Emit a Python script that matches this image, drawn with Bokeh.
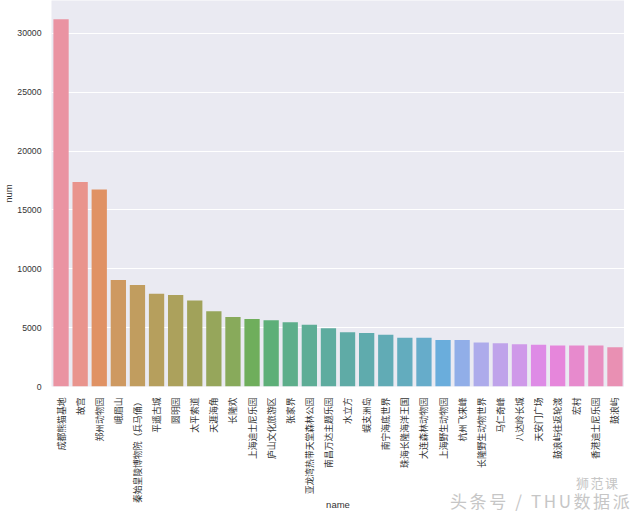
import math
import colorsys
from bokeh.plotting import figure
from bokeh.models import FixedTicker, Div
from bokeh.layouts import column
from bokeh.embed import file_html
from bokeh.resources import INLINE

names = ["成都熊猫基地", "故宫", "郑州动物园", "峨眉山", "秦始皇陵博物院（兵马俑）", "平遥古城",
         "圆明园", "太平索道", "天涯海角", "长隆欢", "上海迪士尼乐园", "庐山文化旅游区", "张家界",
         "亚龙湾热带天堂森林公园", "南昌万达主题乐园", "水立方", "蜈支洲岛", "南宁海底世界",
         "珠海长隆海洋王国", "大连森林动物园", "上海野生动物园", "杭州飞来峰", "长隆野生动物世界",
         "马仁奇峰", "八达岭长城", "天安门广场", "鼓浪屿往返轮渡", "宏村", "香港迪士尼乐园", "鼓浪屿"]
nums = [31200, 17380, 16750, 9050, 8620, 7880, 7770, 7300, 6400, 5910, 5740, 5630, 5450,
        5250, 4940, 4600, 4540, 4400, 4150, 4150, 3960, 3960, 3740, 3680, 3600, 3540,
        3480, 3480, 3480, 3340]
y_ticks = [0, 5000, 10000, 15000, 20000, 25000, 30000]
x_label = "name"
y_label = "num"
watermark_top = "狮范课"
watermark_main = "头条号 / THU数据派"

# --- seaborn-style husl palette (h=.01, s=.9, l=.65), desaturated by .75 ---
_M = [[3.2406, -1.5372, -0.4986], [-0.9689, 1.8758, 0.0415], [0.0557, -0.2040, 1.0570]]
_refU, _refV, _kappa, _eps = 0.19784, 0.46834, 903.2963, 0.0088564


def _max_chroma(L, H):
    hrad = math.radians(H)
    sinH, cosH = math.sin(hrad), math.cos(hrad)
    sub1 = (L + 16) ** 3 / 1560896.0
    sub2 = sub1 if sub1 > _eps else L / _kappa
    res = float("inf")
    for m1, m2, m3 in _M:
        top = (0.99915 * m1 + 1.05122 * m2 + 1.14460 * m3) * sub2
        rb = 0.86330 * m3 - 0.17266 * m2
        lb = 0.12949 * m3 - 0.38848 * m1
        bottom = (rb * sinH + lb * cosH) * sub2
        for t in (0.0, 1.0):
            C = L * (top - 1.05122 * t) / (bottom + 0.17266 * sinH * t)
            if 0 < C < res:
                res = C
    return res


def _husl_to_rgb(H, S, L):
    C = _max_chroma(L, H) / 100.0 * S
    hrad = math.radians(H)
    U, V = math.cos(hrad) * C, math.sin(hrad) * C
    t = (L + 16) / 116.0
    Y = t ** 3 if t ** 3 > _eps else (116 * t - 16) / _kappa
    vu = U / (13 * L) + _refU
    vv = V / (13 * L) + _refV
    X = 0 - (9 * Y * vu) / ((vu - 4) * vv - vu * vv)
    Z = (9 * Y - 15 * vv * Y - vv * X) / (3 * vv)
    out = []
    for row in _M:
        c = row[0] * X + row[1] * Y + row[2] * Z
        c = 12.92 * c if c <= 0.0031308 else 1.055 * c ** (1 / 2.4) - 0.055
        out.append(min(max(c, 0.0), 1.0))
    return out


def _palette(n, lighten=0.14):
    cols = []
    for i in range(n):
        h = ((i / n) + 0.01) % 1 * 359
        r, g, b = _husl_to_rgb(h, 0.9 * 99, 0.65 * 99)
        hh, ll, ss = colorsys.rgb_to_hls(r, g, b)
        r, g, b = colorsys.hls_to_rgb(hh, ll, ss * 0.75)
        r, g, b = [c + (1 - c) * lighten for c in (r, g, b)]
        cols.append("#%02x%02x%02x" % (int(round(r * 255)), int(round(g * 255)), int(round(b * 255))))
    return cols


colors = _palette(len(names))

p = figure(x_range=names, y_range=(0, 32800), width=624, height=513,
           output_backend="svg", toolbar_location=None,
           min_border_top=0, min_border_right=0, min_border_left=0, min_border_bottom=0)
p.vbar(x=names, top=nums, width=0.8, fill_color=colors, line_color=None)

p.background_fill_color = "#eaeaf2"
p.border_fill_color = "white"
p.outline_line_color = None
p.x_range.range_padding = 0.0
p.xgrid.grid_line_color = None
p.ygrid.grid_line_color = "white"
p.ygrid.grid_line_width = 1.2

p.yaxis.ticker = FixedTicker(ticks=y_ticks)
for ax in (p.xaxis[0], p.yaxis[0]):
    ax.axis_line_color = None
    ax.major_tick_line_color = None
    ax.minor_tick_line_color = None
    ax.major_label_text_color = "#333333"
    ax.axis_label_text_color = "#333333"
    ax.axis_label_text_font_style = "normal"
    ax.axis_label_text_font_size = "9.5px"

p.xaxis.major_label_orientation = math.pi / 2
p.xaxis.major_label_text_font = "Noto Sans CJK SC"
p.xaxis.major_label_text_font_size = "8.8px"
p.xaxis.major_label_standoff = 5
p.xaxis.axis_label = x_label
p.xaxis.axis_label_standoff = -7
p.xaxis.axis_label_text_line_height = 0.3
p.xaxis.axis_label_text_font = "Liberation Sans"

p.yaxis.major_label_text_font = "Liberation Sans"
p.yaxis.major_label_text_font_size = "8.7px"
p.yaxis.major_label_standoff = 4
p.yaxis.axis_label = y_label
p.yaxis.axis_label_standoff = 0
p.yaxis.axis_label_text_font = "Liberation Sans"

wm = Div(text=(f'<div style="font-family:\'Noto Sans CJK SC\';color:#c6c6c6;line-height:1;">'
               f'<div style="font-size:13px;margin-left:126px;letter-spacing:1.5px;">{watermark_top}</div>'
               f'<div style="font-size:17px;margin-top:3px;letter-spacing:2.6px;">{watermark_main}</div></div>'),
         width=190, height=34, margin=(-37, 0, 0, 450))

layout = column(p, wm, spacing=0)
open("out.html", "w").write(file_html(layout, INLINE))
